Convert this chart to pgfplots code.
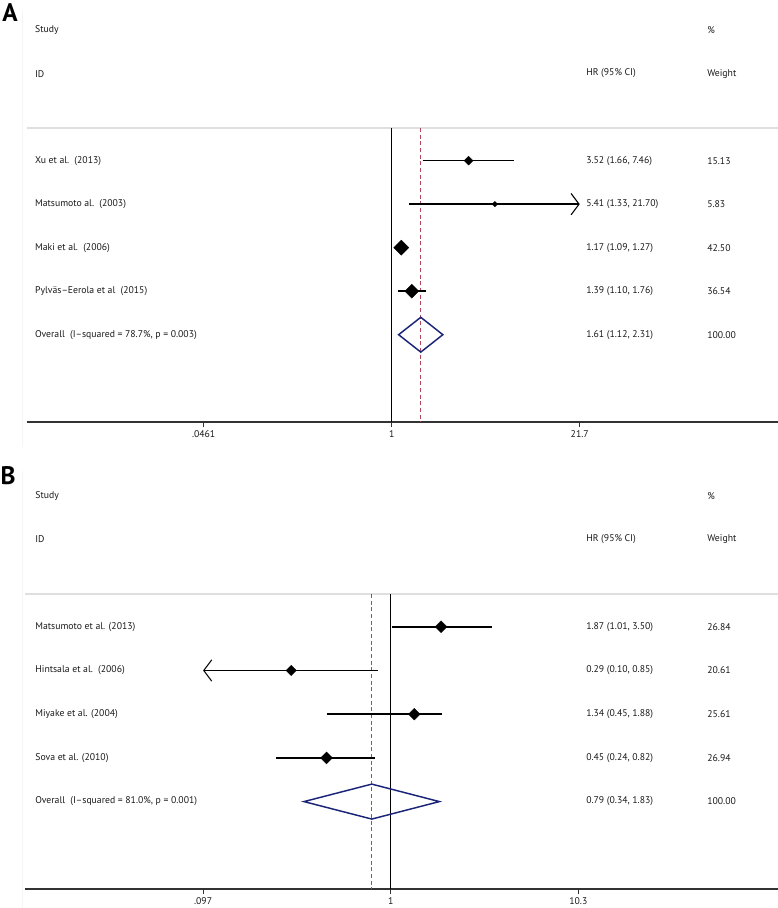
\documentclass[border=0pt]{standalone}
\usepackage{fontspec}
\setmainfont{PT Sans}
\usepackage{pgfplots}
\pgfplotsset{compat=1.18}
\usetikzlibrary{arrows.meta}
\definecolor{estnavy}{RGB}{26,36,120}
\definecolor{refred}{RGB}{175,70,90}
\definecolor{txt}{RGB}{25,25,25}
\newcommand\lbl{\fontsize{7.3}{9}\selectfont}

\tikzset{
  ci/.style={black, line width=1.1pt},
  wbox/.style={mark=square*, mark options={solid, fill=black, draw=black, rotate=45, line width=0.1pt}},
  barb/.style={-{Straight Barb[length=6pt,width=16pt,line width=0.8pt]}}
}

\begin{document}
\begin{tikzpicture}
\useasboundingbox (0,0) rectangle (583.5pt,681pt);
% faint frame edges of the two graph regions
\draw[black!4, line width=0.5pt] (17pt,673pt) -- (17pt,345.7pt);
\draw[black!4, line width=0.5pt] (17pt,328pt) -- (17pt,0pt);

% ---------------- panel A ----------------
\begin{axis}[at={(20.25pt,364.7pt)}, anchor=south west, scale only axis,
  width=563.25pt, height=220.3pt,
  xmode=log, xmin=0.00256, xmax=556.5, ymin=-7, ymax=-0.25,
  axis x line=bottom, axis y line=none,
  axis line style={-, draw=black!80, line width=1.2pt},
  tick align=outside, major tick length=4pt, minor xtick={}, ytick=\empty,
  xtick style={black!80, line width=0.8pt},
  xticklabel style={font=\lbl, text=txt, yshift=1pt},
  clip=false,
  xtick={0.0461,1,21.7}, xticklabels={.0461,1,21.7}]
\draw[gray!25, line width=1.1pt] (axis cs:0.00256,-0.25) -- (axis cs:556.5,-0.25);
\addplot[black, line width=0.8pt] coordinates {(1,-0.25)(1,-7)};
\addplot[refred, line width=0.7pt, dash pattern=on 3pt off 2pt] coordinates {(1.61,-0.25)(1.61,-7)};
% studies: lower-upper line, then the weighted box at the estimate
\addplot[ci] coordinates {(1.66,-1)(7.46,-1)};
\addplot[only marks, wbox, mark size=2.41pt] coordinates {(3.52,-1)};
\addplot[ci, barb] coordinates {(1.33,-2)(21.7,-2)};
\addplot[only marks, wbox, mark size=1.50pt] coordinates {(5.41,-2)};
\addplot[ci] coordinates {(1.09,-3)(1.27,-3)};
\addplot[only marks, wbox, mark size=4.05pt] coordinates {(1.17,-3)};
\addplot[ci] coordinates {(1.10,-4)(1.76,-4)};
\addplot[only marks, wbox, mark size=3.75pt] coordinates {(1.39,-4)};
\addplot[estnavy, line width=1.1pt, line join=miter] coordinates {(1.12,-5)(1.61,-4.6)(2.31,-5)(1.61,-5.4)(1.12,-5)(1.61,-4.6)};

\node[font=\fontsize{19}{21}\selectfont\bfseries] at (axis cs:0.00194,2.4) {A};
\begin{scope}[every node/.style={font=\lbl, text=txt, anchor=west, inner sep=0pt}]
\node at (axis cs:0.00291,2) {Study};
\node at (axis cs:0.00291,1) {ID};
\node at (axis cs:24.05,1) {HR (95\% CI)};
\node at (axis cs:174.2,2) {\%};
\node at (axis cs:174.2,1) {Weight};
\node at (axis cs:0.00291,-1) {Xu et al.\ \ (2013)};
\node at (axis cs:0.00291,-2) {Matsumoto al.\ \ (2003)};
\node at (axis cs:0.00291,-3) {Maki et al.\ \ (2006)};
\node at (axis cs:0.00291,-4) {Pylväs–Eerola et al\ \ (2015)};
\node at (axis cs:0.00291,-5) {Overall\ \ (I–squared = 78.7\%, p = 0.003)};
\node at (axis cs:24.05,-1) {3.52 (1.66, 7.46)};
\node at (axis cs:24.05,-2) {5.41 (1.33, 21.70)};
\node at (axis cs:24.05,-3) {1.17 (1.09, 1.27)};
\node at (axis cs:24.05,-4) {1.39 (1.10, 1.76)};
\node at (axis cs:24.05,-5) {1.61 (1.12, 2.31)};
\node at (axis cs:174.2,-1) {15.13};
\node at (axis cs:174.2,-2) {5.83};
\node at (axis cs:174.2,-3) {42.50};
\node at (axis cs:174.2,-4) {36.54};
\node at (axis cs:174.2,-5) {100.00};
\end{scope}
\end{axis}

% ---------------- panel B ----------------
\begin{axis}[at={(18.75pt,14.25pt)}, anchor=south west, scale only axis,
  width=564.75pt, height=221.25pt,
  xmode=log, xmin=0.0106, xmax=123.2, ymin=-7, ymax=-0.25,
  axis x line=bottom, axis y line=none,
  axis line style={-, draw=black!80, line width=1.2pt},
  tick align=outside, major tick length=4pt, minor xtick={}, ytick=\empty,
  xtick style={black!80, line width=0.8pt},
  xticklabel style={font=\lbl, text=txt, yshift=1pt},
  clip=false,
  xtick={0.097,1,10.3}, xticklabels={.097,1,10.3}]
\draw[gray!25, line width=1.1pt] (axis cs:0.0106,-0.25) -- (axis cs:123.2,-0.25);
\addplot[black, line width=0.8pt] coordinates {(1,-0.25)(1,-7)};
\addplot[refred, line width=0.7pt, dash pattern=on 3pt off 2pt] coordinates {(0.79,-0.25)(0.79,-7)};
\addplot[ci] coordinates {(1.01,-1)(3.50,-1)};
\addplot[only marks, wbox, mark size=3.21pt] coordinates {(1.87,-1)};
\addplot[ci, barb] coordinates {(0.85,-2)(0.097,-2)};
\addplot[only marks, wbox, mark size=2.82pt] coordinates {(0.29,-2)};
\addplot[ci] coordinates {(0.45,-3)(1.88,-3)};
\addplot[only marks, wbox, mark size=3.14pt] coordinates {(1.34,-3)};
\addplot[ci] coordinates {(0.24,-4)(0.82,-4)};
\addplot[only marks, wbox, mark size=3.22pt] coordinates {(0.45,-4)};
\addplot[estnavy, line width=1.1pt, line join=miter] coordinates {(0.34,-5)(0.79,-4.6)(1.83,-5)(0.79,-5.4)(0.34,-5)(0.79,-4.6)};

\node[font=\fontsize{19}{21}\selectfont\bfseries] at (axis cs:0.00859,2.45) {B};
\begin{scope}[every node/.style={font=\lbl, text=txt, anchor=west, inner sep=0pt}]
\node at (axis cs:0.01202,2) {Study};
\node at (axis cs:0.01202,1) {ID};
\node at (axis cs:11.33,1) {HR (95\% CI)};
\node at (axis cs:51.0,2) {\%};
\node at (axis cs:51.0,1) {Weight};
\node at (axis cs:0.01202,-1) {Matsumoto et al. (2013)};
\node at (axis cs:0.01202,-2) {Hintsala et al.\ \ (2006)};
\node at (axis cs:0.01202,-3) {Miyake et al. (2004)};
\node at (axis cs:0.01202,-4) {Sova et al. (2010)};
\node at (axis cs:0.01202,-5) {Overall\ \ (I–squared = 81.0\%, p = 0.001)};
\node at (axis cs:11.33,-1) {1.87 (1.01, 3.50)};
\node at (axis cs:11.33,-2) {0.29 (0.10, 0.85)};
\node at (axis cs:11.33,-3) {1.34 (0.45, 1.88)};
\node at (axis cs:11.33,-4) {0.45 (0.24, 0.82)};
\node at (axis cs:11.33,-5) {0.79 (0.34, 1.83)};
\node at (axis cs:51.0,-1) {26.84};
\node at (axis cs:51.0,-2) {20.61};
\node at (axis cs:51.0,-3) {25.61};
\node at (axis cs:51.0,-4) {26.94};
\node at (axis cs:51.0,-5) {100.00};
\end{scope}
\end{axis}
\end{tikzpicture}
\end{document}
